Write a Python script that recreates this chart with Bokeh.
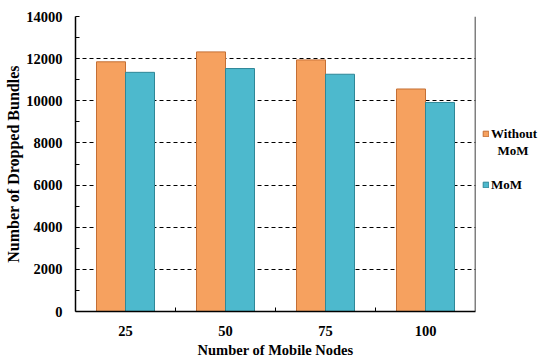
from bokeh.plotting import figure
from bokeh.models import FixedTicker, Range1d, ColumnDataSource, Legend, LegendItem, Span
from bokeh.transform import dodge
from bokeh.embed import file_html
from bokeh.resources import INLINE

categories = ["25", "50", "75", "100"]
without_mom = [11850, 12320, 11940, 10560]
mom = [11350, 11530, 11260, 9920]
y_ticks = [0, 2000, 4000, 6000, 8000, 10000, 12000, 14000]
y_minor = [1000, 3000, 5000, 7000, 9000, 11000, 13000]
series_labels = ["Without", "MoM", "MoM"]

idx = list(range(len(categories)))
src = ColumnDataSource(dict(x=idx, without=without_mom, mom=mom))

FONT = "Liberation Serif"

p = figure(frame_width=400, frame_height=295, output_backend="svg", toolbar_location=None,
           x_range=Range1d(-0.5, len(categories) - 0.5), y_range=Range1d(0, 14000),
           min_border_left=75, min_border_right=63, min_border_top=16, min_border_bottom=47)
p.outline_line_color = None
p.background_fill_color = "white"
p.border_fill_color = "white"

r1 = p.vbar(x=dodge('x', -0.145, range=p.x_range), top='without', width=0.29, source=src,
            fill_color="#F6A15F", line_color="#C46F35", line_width=1)
r2 = p.vbar(x=dodge('x', 0.145, range=p.x_range), top='mom', width=0.29, source=src,
            fill_color="#4DB9CD", line_color="#2F8797", line_width=1)
r_blank = p.scatter(x=[], y=[], fill_alpha=0, line_alpha=0)

# axes
p.xaxis.ticker = FixedTicker(ticks=idx, minor_ticks=[i + 0.5 for i in idx[:-1]])
p.xaxis.major_label_overrides = {i: c for i, c in zip(idx, categories)}
p.xaxis.major_tick_in = 0
p.xaxis.major_tick_out = 0
p.xaxis.minor_tick_in = 4
p.xaxis.minor_tick_out = 0
p.xaxis.major_label_standoff = 14
p.xaxis.axis_label = "Number of Mobile Nodes"
p.xaxis.axis_label_standoff = 3

p.yaxis.ticker = FixedTicker(ticks=y_ticks, minor_ticks=y_minor)
p.yaxis.major_tick_in = 4
p.yaxis.major_tick_out = 0
p.yaxis.minor_tick_in = 4
p.yaxis.minor_tick_out = 0
p.yaxis.major_label_standoff = 13
p.yaxis.axis_label = "Number of Dropped Bundles"
p.yaxis.axis_label_standoff = 1

for ax in (p.xaxis[0], p.yaxis[0]):
    ax.axis_line_color = "black"
    ax.axis_line_width = 1.5
    ax.major_tick_line_color = "black"
    ax.minor_tick_line_color = "black"
    ax.major_label_text_font = FONT
    ax.major_label_text_font_style = "bold"
    ax.major_label_text_font_size = "14.5px"
    ax.major_label_text_color = "black"
    ax.axis_label_text_font = FONT
    ax.axis_label_text_font_style = "bold"
    ax.axis_label_text_font_size = "14.5px"
    ax.axis_label_text_color = "black"
p.yaxis.axis_label_text_font_size = "16px"

p.xgrid.grid_line_color = None
p.ygrid.ticker = FixedTicker(ticks=y_ticks)
p.ygrid.grid_line_color = "black"
p.ygrid.grid_line_dash = "4 3"
p.ygrid.grid_line_width = 1

p.add_layout(Span(location=len(categories) - 0.5, dimension="height", line_color="black", line_width=1.5))

legend = Legend(items=[LegendItem(label=series_labels[0], renderers=[r1]),
                       LegendItem(label="\u00a0\u00a0" + series_labels[1], renderers=[r_blank]),
                       LegendItem(label="\u00a0", renderers=[r_blank]),
                       LegendItem(label=series_labels[2], renderers=[r2])],
                location=(7, 118))
legend.border_line_color = None
legend.background_fill_alpha = 0
legend.glyph_width = 7
legend.glyph_height = 7
legend.label_height = 17
legend.label_standoff = 2
legend.spacing = 0
legend.padding = 0
legend.margin = 0
legend.label_text_font = FONT
legend.label_text_font_style = "bold"
legend.label_text_font_size = "13px"
legend.label_text_color = "black"
p.add_layout(legend, "right")

open("out.html", "w").write(file_html(p, INLINE))
